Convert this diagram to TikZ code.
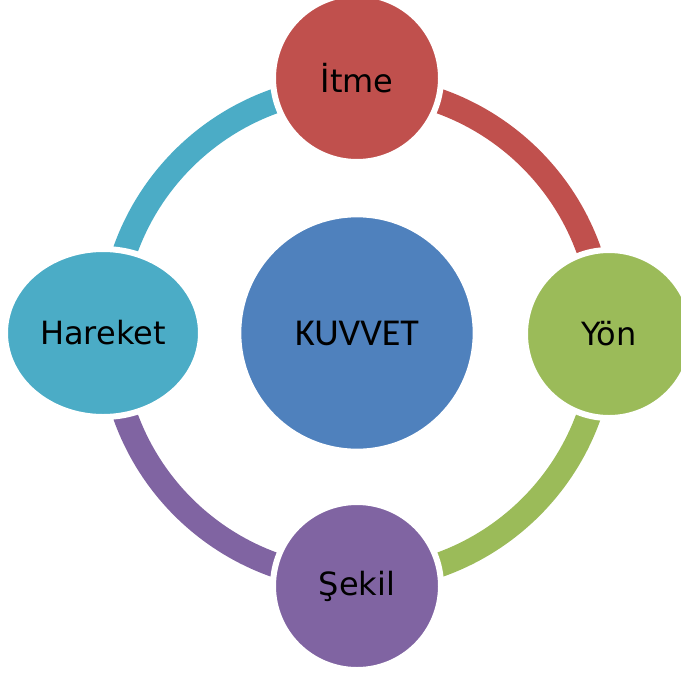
\documentclass[tikz,border=0pt]{standalone}
\usepackage{fontspec}
\setmainfont{DejaVu Sans}
\newfontfamily\carlito{Carlito}
\usetikzlibrary{shapes.geometric}
\definecolor{itmekirmizi}{RGB}{192,80,77}
\definecolor{yonyesil}{RGB}{155,187,89}
\definecolor{sekilmor}{RGB}{128,100,162}
\definecolor{hareketmavi}{RGB}{75,172,198}
\definecolor{kuvvetmavi}{RGB}{79,129,189}
\tikzset{every picture/.style={line width=0.75pt}}
\tikzset{
  kavram/.style={circle, draw=white, line width=4.5pt, minimum size=126pt, inner sep=0pt, text=black, font=\fontsize{24}{28}\selectfont},
  halka/.style={line width=18.5pt},
}

\begin{document}
\begin{tikzpicture}[x=0.75pt,y=0.75pt,yscale=-1,xscale=1]
\useasboundingbox (0,0) rectangle (681,675);
\coordinate (merkez) at (357,333);
%Arc Lines
\draw [halka, itmekirmizi] (merkez) ++(270:246) arc (270:360:246);
\draw [halka, yonyesil] (merkez) ++(0:246) arc (0:90:246);
\draw [halka, sekilmor] (merkez) ++(90:246) arc (90:180:246);
\draw [halka, hareketmavi] (merkez) ++(180:246) arc (180:270:246);
% Circle Nodes
\draw (357,333) node [kavram, fill=kuvvetmavi, minimum size=178pt, font=\carlito\fontsize{28.5}{32}\selectfont] (kuvvet) {KUVVET};
\draw (357,78) node [kavram, fill=itmekirmizi] (itme) {İtme};
\draw (609,334) node [kavram, fill=yonyesil] (yon) {Yön};
\draw (357,586) node [kavram, fill=sekilmor] (sekil) {Şekil};
\draw (103,333) node [kavram, ellipse, fill=hareketmavi, minimum width=147pt, minimum height=126pt] (hareket) {Hareket};
\end{tikzpicture}
\end{document}
